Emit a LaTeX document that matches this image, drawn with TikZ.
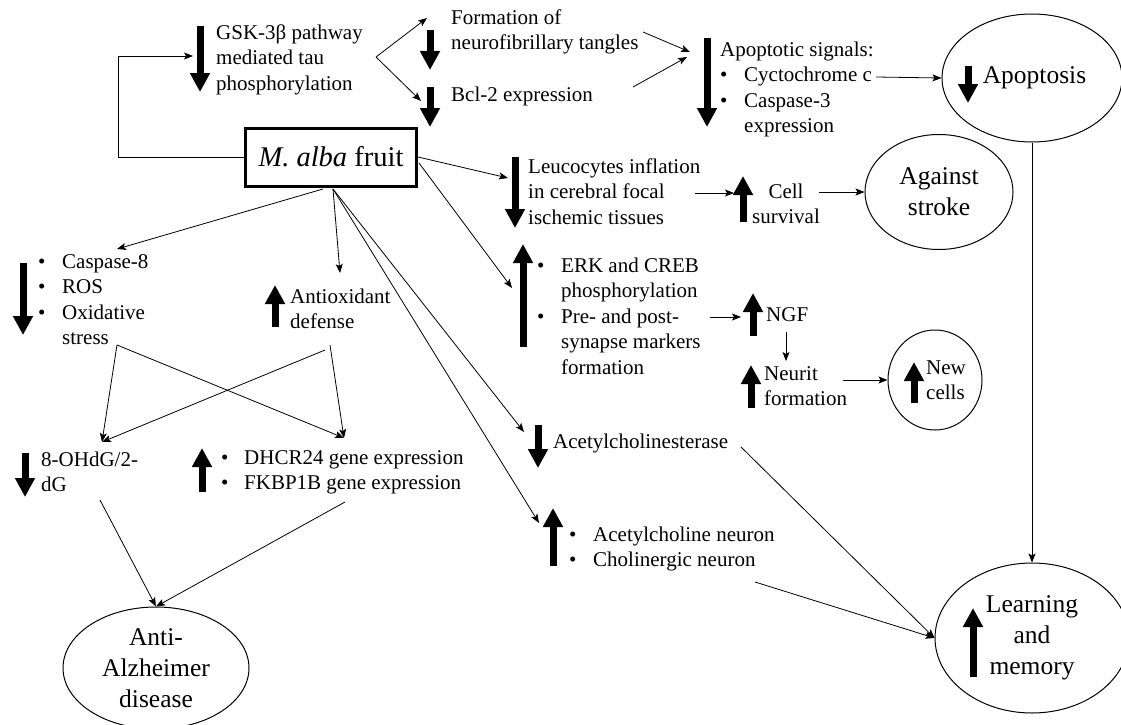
\documentclass[tikz,border=0pt]{standalone}
\usepackage{fontspec}
\setmainfont{Liberation Serif}
\usetikzlibrary{arrows.meta,shapes.geometric,calc}
\newcommand{\fsz}{\fontsize{21}{25.5}\selectfont}
\newcommand{\fbig}{\fontsize{25.5}{31}\selectfont}
\newcommand{\bul}{\makebox[24pt][l]{•}}
\newcommand{\ind}{\hspace*{24pt}}
\begin{document}
\begin{tikzpicture}[x=1pt,y=-1pt,
 txt/.style={anchor=north west, inner sep=0pt, align=left, font=\fsz},
 ctxt/.style={anchor=north, inner sep=0pt, align=center, font=\fsz},
 oval/.style={draw, ellipse, line width=1pt, inner sep=0pt, align=center, font=\fbig},
 conn/.style={line width=0.8pt, -{Stealth[length=9pt,width=7pt,inset=2pt]}},
 big/.style={line width=7pt, -{Triangle[length=19pt,width=19pt]}}]
\fill[white] (0,0) rectangle (1121,725);
\useasboundingbox (0,0) rectangle (1121,725);

% central box
\node[draw, line width=3pt, minimum width=171pt, minimum height=58pt, inner sep=0pt,
      font=\fontsize{28.5}{30}\selectfont] (malba) at (331,157) {\textit{M. alba} fruit};

% GSK
\node[txt] (gsk) at (216,21) {\strut GSK-3β pathway\\mediated tau\\phosphorylation};
\draw[big] (200,26) -- (200,92);
\coordinate (elb) at (118,56);
\coordinate (gskin) at (193,56);
\draw[conn] (malba.west) -| (elb) -- (gskin);
\coordinate (gskout) at (376,57);
\coordinate (fntin) at (427,18);
\coordinate (bclin) at (421,101);
\draw[conn] (gskout) -- (fntin);
\draw[conn] (gskout) -- (bclin);

% Formation / Bcl-2
\node[txt] (fnt) at (451,6) {\strut Formation of\\neurofibrillary tangles};
\draw[big] (430,30) -- (430,70);
\node[txt] (bcl) at (451,83) {\strut Bcl-2 expression};
\draw[big] (430,87) -- (430,127);

% Apoptotic signals
\node[txt] (aps) at (720,38) {\strut Apoptotic signals:\\\bul Cyctochrome c\\\bul Caspase-3\\\ind expression};
\draw[big] (707,38) -- (707,127);
\coordinate (fnto) at (643,32);
\coordinate (apsin1) at (690,52);
\coordinate (bclo) at (633,87);
\coordinate (apsin2) at (687,57);
\draw[conn] (fnto) -- (apsin1);
\draw[conn] (bclo) -- (apsin2);

% Apoptosis
\node[oval, minimum width=180pt, minimum height=128pt] (apop) at (1032,78) {\hspace*{5pt}Apoptosis};
\draw[big] (968,66) -- (968,103);
\coordinate (cyto) at (876,77);
\draw[conn] (cyto) -- (apop.west);

% Learning and memory
\node[oval, minimum width=194pt, minimum height=150pt] (learn) at (1032,638) {Learning\\and\\memory};
\draw[big] (973,677) -- (973,608);
\draw[conn] (apop.south) -- (learn.north);

% Leucocytes
\node[txt] (leuc) at (528,155) {\strut Leucocytes inflation\\in cerebral focal\\ischemic tissues};
\draw[big] (515,157) -- (515,228);
\coordinate (leucin) at (508,178);
\draw[conn] (malba.east) -- (leucin);
\coordinate (leuco) at (695,193);
\coordinate (cellin) at (734,193);
\draw[conn] (leuco) -- (cellin);
\draw[big] (743,222) -- (743,176);
\node[ctxt] (cell) at (786,180) {\strut Cell\\survival};
\node[oval, minimum width=148pt, minimum height=115pt] (stroke) at (939,192) {Against\\stroke};
\coordinate (cello) at (819,192);
\draw[conn] (cello) -- (stroke.west);

% ERK
\node[txt] (erk) at (537,254) {\strut\bul ERK and CREB\\\ind phosphorylation\\\bul Pre- and post-\\\ind synapse markers\\\ind formation};
\draw[big] (523,347) -- (523,244);
\coordinate (m2) at (419,163);
\coordinate (erkin) at (512,288);
\draw[conn] (m2) -- (erkin);
\coordinate (erko) at (710,317);
\coordinate (ngfin) at (741,317);
\draw[conn] (erko) -- (ngfin);
\draw[big] (753,336) -- (753,293);
\node[txt] (ngf) at (766,303) {\strut NGF};
\coordinate (ngfo) at (786,332);
\coordinate (neurin) at (786,361);
\draw[conn] (ngfo) -- (neurin);
\draw[big] (751,408) -- (751,365);
\node[txt] (neur) at (764,362) {\strut Neurit\\formation};
\node[oval, font=\fsz, align=left, minimum width=94pt, minimum height=100pt] (newc) at (935,380) {\hspace*{22pt}New\\\hspace*{22pt}cells};
\draw[big] (914,403) -- (914,362);
\coordinate (neuro) at (843,380);
\draw[conn] (neuro) -- (newc.west);

% Left branch
\coordinate (mbl) at (323,189);
\coordinate (mbr) at (333,189);
\node[txt] (casp) at (38,250) {\strut\bul Caspase-8\\\bul ROS\\\bul Oxidative\\\ind stress};
\draw[big] (23,263) -- (23,335);
\coordinate (caspin) at (117,249);
\draw[conn] (mbl) -- (caspin);
\node[txt] (antiox) at (290,285) {\strut Antioxidant\\defense};
\draw[big] (275,327) -- (275,285);
\coordinate (antin) at (340,273);
\draw[conn] (mbr) -- (antin);

\coordinate (osout) at (117,345);
\coordinate (aoout1) at (325,350);
\coordinate (aoout2) at (330,345);
\coordinate (ohin) at (102,442);
\coordinate (dhin) at (344,438);
\draw[conn] (osout) -- (ohin);
\draw[conn] (osout) -- (dhin);
\draw[conn] (aoout1) -- (ohin);
\draw[conn] (aoout2) -- (dhin);

\node[txt] (oh) at (41,448) {\strut 8-OHdG/2-\\dG};
\draw[big] (25,453) -- (25,497);
\node[txt] (dh) at (221,446) {\strut\makebox[23pt][l]{•}DHCR24 gene expression\\\makebox[23pt][l]{•}FKBP1B gene expression};
\draw[big] (202,492) -- (202,448);

\node[oval, minimum width=186pt, minimum height=122pt] (alz) at (156,668) {Anti-\\Alzheimer\\disease};
\coordinate (oho) at (100,500);
\coordinate (dho) at (345,502);
\draw[conn] (oho) -- (alz.north);
\draw[conn] (dho) -- (alz.north);

% Acetylcholine
\node[txt] (ache) at (553,430) {\strut Acetylcholinesterase};
\draw[big] (538,425) -- (538,468);
\coordinate (achein) at (524,432);
\draw[conn] (mbr) -- (achein);
\node[txt] (ach) at (569,523) {\strut\bul Acetylcholine neuron\\\bul Cholinergic neuron};
\draw[big] (553,566) -- (553,508);
\coordinate (achin) at (539,523);
\draw[conn] (mbr) -- (achin);
\coordinate (acheo) at (741,447);
\coordinate (acho) at (755,582);
\draw[conn] (acheo) -- (learn.west);
\draw[conn] (acho) -- (learn.west);
\end{tikzpicture}
\end{document}
